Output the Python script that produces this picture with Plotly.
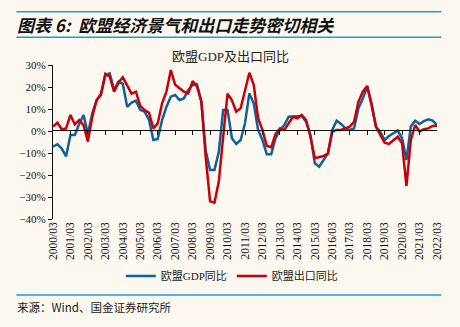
import plotly.graph_objects as go

years = list(range(2000, 2023))
tick_labels = [f"{y}/03" for y in years]

gdp_yoy = [-7.1, -6.0, -8.0, -11.5, -1.8, -1.8, 3.2, 7.3, -1.4, 8.0, 14.0, 16.4,
           25.5, 26.2, 18.6, 22.4, 21.4, 11.0, 12.9, 13.8, 9.5, 8.8, 5.0, -4.1,
           -3.6, 5.0, 11.0, 15.6, 16.4, 14.1, 14.8, 18.6, 20.9, 21.2, 13.5, -9.0,
           -17.7, -17.7, -9.4, 9.5, 9.5, -3.3, -5.9, -4.1, 3.5, 17.1, 12.6, 0.5,
           -4.1, -10.6, -10.6, -3.3, 0.5, 2.7, 6.5, 6.5, 6.5, 6.8, 4.2, -1.8,
           -14.7, -16.2, -13.2, -10.2, 0.5, 4.7, 3.2, 1.2, 0.5, 1.2, 10.3, 14.8,
           20.2, 12.6, 2.0, -0.3, -4.1, -2.3, -1.0, 0.2, -3.3, -13.2, 2.0, 4.7,
           3.2, 4.5, 5.3, 4.7, 2.7]

export_yoy = [2.0, 3.8, 0.8, 1.2, 7.3, 3.0, 5.0, 2.7, -4.8, 6.5, 14.0, 17.0,
              26.0, 24.7, 17.9, 22.0, 24.4, 20.5, 17.0, 17.9, 11.4, 9.5, 8.3, 1.2,
              3.5, 12.6, 17.9, 27.7, 21.0, 19.4, 17.9, 17.1, 22.7, 20.2, 13.3, -12.0,
              -32.0, -32.6, -23.0, -2.6, 17.0, 14.0, 8.8, 10.3, 17.9, 26.5, 21.0, 5.8,
              0.5, -6.8, -7.4, -1.4, 1.2, 0.5, 3.5, 6.5, 5.8, 7.3, 5.0, -2.6,
              -12.4, -12.0, -11.4, -10.2, -0.3, 0.5, 0.5, 1.2, 2.0, 4.2, 13.3, 17.9,
              20.5, 11.8, 2.0, -1.8, -5.3, -5.9, -4.1, -2.6, -5.6, -25.0, -4.1, 2.7,
              -0.3, 0.8, 1.2, 2.3, 2.4]

quarters = list(range(len(gdp_yoy)))
tick_pos = [4 * k for k in range(len(years))]

BG = "#FDF9F0"
SERIF = "Liberation Serif, Noto Sans CJK SC, serif"
BLUE = "#10609A"
RED = "#C8000A"
Y_MIN, Y_MAX = -40, 30

fig = go.Figure()
# invisible helper trace on the (x2, y2) subplot whose top edge sits at the 0% level;
# x2 supplies the line and tick marks of the zero-crossing category axis
fig.add_trace(go.Scatter(x=quarters, y=gdp_yoy, mode="lines", xaxis="x2", yaxis="y2",
                         line=dict(color="rgba(0,0,0,0)", width=0), showlegend=False,
                         hoverinfo="skip"))
fig.add_trace(go.Scatter(x=quarters, y=gdp_yoy, mode="lines", name="欧盟GDP同比",
                         line=dict(color=BLUE, width=2.5)))
fig.add_trace(go.Scatter(x=quarters, y=export_yoy, mode="lines", name="欧盟出口同比",
                         line=dict(color=RED, width=2.5)))

L, R, T, B = 52.6, 23.3, 65, 108
W, H = 460, 327
pw = W - L - R
ph = H - T - B

def px_x(x):
    return (x - L) / pw

def px_y(y):
    return (H - B - y) / ph

zero_frac = (0 - Y_MIN) / (Y_MAX - Y_MIN)

fig.update_layout(
    width=W, height=H,
    margin=dict(l=L, r=R, t=T, b=B, autoexpand=False),
    paper_bgcolor=BG, plot_bgcolor="rgba(0,0,0,0)",
    showlegend=True,
    legend=dict(orientation="h", x=0.467, xanchor="center", y=px_y(276), yanchor="middle",
                font=dict(family=SERIF, size=11, color="#222"),
                bgcolor="rgba(0,0,0,0)", tracegroupgap=0),
    xaxis=dict(range=[0, 88], tickvals=tick_pos, ticktext=tick_labels, tickangle=-90,
               showline=False, ticks="", showgrid=False, zeroline=False,
               tickfont=dict(family="Liberation Serif, serif", size=11.5, color="#111")),
    xaxis2=dict(range=[0, 88], anchor="y2", side="top",
                tickvals=tick_pos, showticklabels=False, ticks="inside", ticklen=4,
                tickwidth=1.2, tickcolor="#111", showline=True, linecolor="#111",
                linewidth=1.2, showgrid=False, zeroline=False),
    yaxis2=dict(domain=[0, zero_frac], anchor="x2", visible=False, range=[0, 1],
                showgrid=False, zeroline=False),
    yaxis=dict(range=[Y_MIN, Y_MAX], dtick=10, ticksuffix="%", showgrid=False,
               zeroline=False,
               showline=True, linecolor="#111", linewidth=1.2, ticks="outside", ticklen=4,
               tickcolor="#111", tickwidth=1.2,
               tickfont=dict(family="Liberation Serif, serif", size=11, color="#111")),
)

# header / footer decorations
for yy in (11.7, 37.3, 295):
    fig.add_shape(type="line", xref="paper", yref="paper",
                  x0=px_x(16), x1=px_x(441), y0=px_y(yy), y1=px_y(yy),
                  line=dict(color="#1E9BD8", width=1.5))

fig.add_annotation(text="图表 6:  欧盟经济景气和出口走势密切相关", xref="paper", yref="paper",
                   x=px_x(15), y=px_y(24.5), xanchor="left", yanchor="middle", showarrow=False,
                   font=dict(family="Noto Sans CJK SC, sans-serif", size=17, color="#111",
                             weight="bold", style="italic"))
fig.add_annotation(text="欧盟GDP及出口同比", xref="paper", yref="paper",
                   x=px_x(230), y=px_y(56.5), xanchor="center", yanchor="middle", showarrow=False,
                   font=dict(family=SERIF, size=13, color="#222"))
fig.add_annotation(text="来源：Wind、国金证券研究所", xref="paper", yref="paper",
                   x=px_x(15), y=px_y(307), xanchor="left", yanchor="middle", showarrow=False,
                   font=dict(family="Noto Sans CJK SC, sans-serif", size=11.5, color="#222"))

fig.write_html("out.html")
